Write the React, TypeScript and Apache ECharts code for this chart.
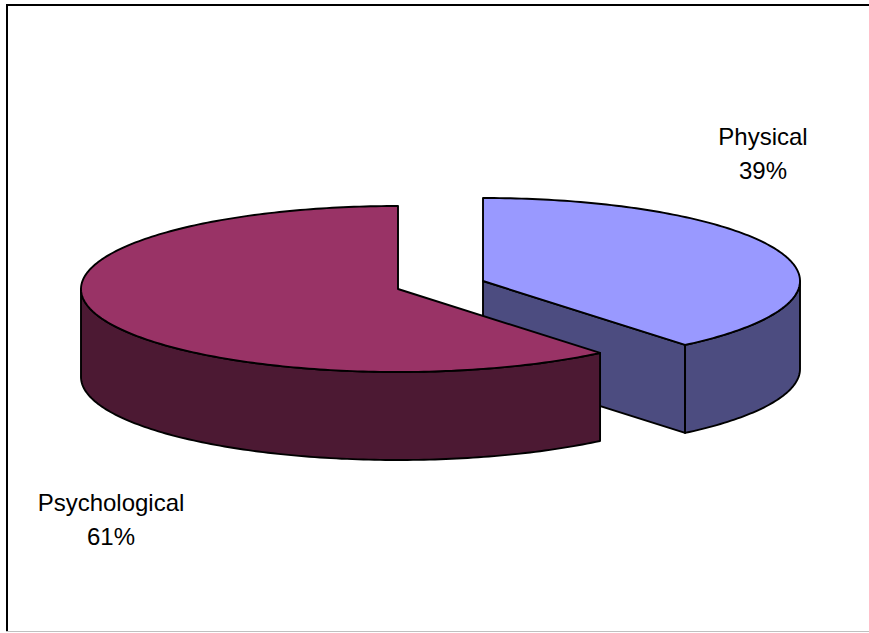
import React, { useEffect, useRef } from 'react';
import * as echarts from 'echarts';

// Shares of the two categories
const categories = ['Physical', 'Psychological'];
const values = [39, 61];
const topColors = ['#9999FF', '#993366'];
const sideColors = ['#4C4C80', '#4C1933'];

// Tilted-pie layout (pixels)
const CX = 398;
const CY = 289;
const RX = 317;
const RY = 83;
const DEPTH = 88;
const EXPLODE = [0.285, 0];
const LABEL_POS: [number, number][] = [
  [763, 153],
  [111, 519],
];
const FONT = '"Liberation Sans", Arial, sans-serif';

const total = values.reduce((a, b) => a + b, 0);
const DEG = Math.PI / 180;

// Point on the elliptical rim; angle measured clockwise from 12 o'clock
function rim(cx: number, cy: number, th: number, dz = 0): number[] {
  return [cx + RX * Math.sin(th), cy - RY * Math.cos(th) + dz];
}

function arc(cx: number, cy: number, a0: number, a1: number, dz: number): number[][] {
  const n = Math.max(2, Math.ceil(Math.abs(a1 - a0) / DEG));
  const pts: number[][] = [];
  for (let i = 0; i <= n; i++) pts.push(rim(cx, cy, a0 + ((a1 - a0) * i) / n, dz));
  return pts;
}

export default function App() {
  const ref = useRef<HTMLDivElement>(null);

  useEffect(() => {
    document.body.style.margin = '0';
    if (!ref.current) return;
    const chart = echarts.init(ref.current, null, { renderer: 'svg' });
    const edge = { stroke: '#000', lineWidth: 1.9, lineJoin: 'round' };

    chart.setOption({
      animation: false,
      backgroundColor: '#fff',
      graphic: [
        { type: 'line', shape: { x1: 6, y1: 5, x2: 869, y2: 5 }, style: { stroke: '#000', lineWidth: 2 } },
        { type: 'line', shape: { x1: 7, y1: 4, x2: 7, y2: 632 }, style: { stroke: '#000', lineWidth: 2 } },
        { type: 'line', shape: { x1: 6, y1: 631.5, x2: 869, y2: 631.5 }, style: { stroke: '#c0c0c0', lineWidth: 1 } },
      ],
      series: [
        {
          type: 'custom',
          coordinateSystem: 'none',
          silent: true,
          data: values.map((v, i) => ({ name: categories[i], value: v })),
          renderItem: (params: any, api: any) => {
            const i = params.dataIndex;
            const v = api.value(0) as number;
            const before = values.slice(0, i).reduce((a, b) => a + b, 0);
            const a0 = (before / total) * 2 * Math.PI;
            const a1 = ((before + v) / total) * 2 * Math.PI;
            const mid = (a0 + a1) / 2;
            const e = EXPLODE[i];
            const cx = CX + e * RX * Math.sin(mid);
            const cy = CY - e * RY * Math.cos(mid);
            const side = { ...edge, fill: sideColors[i] };
            const children: any[] = [];

            // radial cut faces that turn towards the viewer
            if (Math.sin(a1) > 1e-6) {
              children.push({
                type: 'polygon',
                shape: { points: [[cx, cy], rim(cx, cy, a1), rim(cx, cy, a1, DEPTH), [cx, cy + DEPTH]] },
                style: side,
              });
            }
            if (Math.sin(a0) < -1e-6) {
              children.push({
                type: 'polygon',
                shape: { points: [[cx, cy], rim(cx, cy, a0), rim(cx, cy, a0, DEPTH), [cx, cy + DEPTH]] },
                style: side,
              });
            }
            // front part of the outer wall
            const w0 = Math.max(a0, Math.PI / 2);
            const w1 = Math.min(a1, (3 * Math.PI) / 2);
            if (w1 > w0) {
              children.push({
                type: 'polygon',
                shape: { points: [...arc(cx, cy, w0, w1, 0), ...arc(cx, cy, w1, w0, DEPTH)] },
                style: side,
              });
            }
            // top face
            children.push({
              type: 'polygon',
              shape: { points: [[cx, cy], ...arc(cx, cy, a0, a1, 0)] },
              style: { ...edge, fill: topColors[i] },
            });
            // data label
            const pct = Math.round((v / total) * 100);
            children.push({
              type: 'text',
              x: LABEL_POS[i][0],
              y: LABEL_POS[i][1],
              style: {
                text: `${categories[i]}\n${pct}%`,
                fill: '#000',
                fontSize: 24,
                fontFamily: FONT,
                lineHeight: 34,
                align: 'center',
                verticalAlign: 'middle',
              },
            });
            return { type: 'group', children };
          },
        },
      ],
    });
    return () => chart.dispose();
  }, []);

  return (
    <div
      ref={ref}
      style={{ position: 'fixed', left: 0, top: 0, width: 869, height: 633 }}
    />
  );
}
